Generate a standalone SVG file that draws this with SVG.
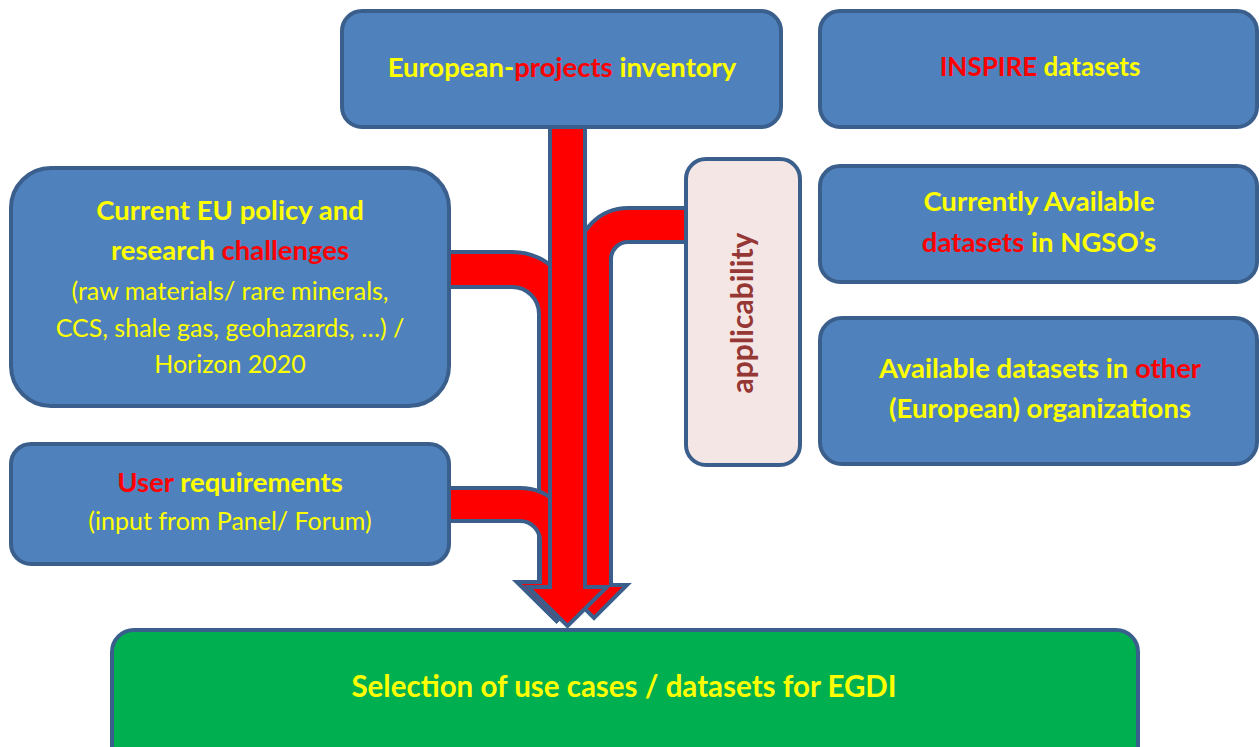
<svg xmlns="http://www.w3.org/2000/svg" width="1259" height="747" viewBox="0 0 1259 747">
<style>
.box{fill:#4f81bd;stroke:#3b5f8c;stroke-width:4}
.arr{fill:#ff0000;stroke:#3b5f8c;stroke-width:4;stroke-linejoin:miter}
.t{font-family:Lato,"Open Sans",sans-serif;text-anchor:middle;fill:#ffff00}
.b{font-weight:bold;font-size:27.5px}
.r{font-size:25px}
.red{fill:#ff0000}
</style>
<rect width="1259" height="747" fill="#ffffff"/>
<g id="connectors">
<path class="arr" d="M 448,252 L 512,252 A 62,62 0 0 1 574,314 L 574,582 L 596,582 L 556.5,621 L 517,582 L 539,582 L 539,314 A 27,27 0 0 0 512,287 L 448,287 Z"/>
<path class="arr" d="M 448,488 L 520,488 A 53,53 0 0 1 573,541 L 573,582 L 596,582 L 556.5,621 L 517,582 L 540,582 L 540,541 A 20,20 0 0 0 520,521 L 448,521 Z"/>
<path class="arr" d="M 688,208 L 628,208 A 51,51 0 0 0 577,259 L 577,585 L 561,585 L 594,618 L 627,585 L 611,585 L 611,259 A 17,17 0 0 1 628,242 L 688,242 Z"/>
<path class="arr" d="M 550,124 L 585,124 L 585,587 L 607,587 L 567.5,626 L 528,587 L 550,587 Z"/>
</g>
<g id="european-projects">
<rect class="box" x="342" y="11" width="439" height="116" rx="20"/>
<text class="t b" x="562" y="77">European-<tspan class="red">projects</tspan> inventory</text>
</g>
<g id="inspire">
<rect class="box" x="820" y="11" width="437" height="116" rx="20"/>
<text class="t b" x="1040" y="76" style="font-size:26px"><tspan class="red">INSPIRE</tspan> datasets</text>
</g>
<g id="ngso">
<rect class="box" x="820" y="166" width="437" height="116" rx="20"/>
<text class="t b" x="1039" y="211">Currently Available</text>
<text class="t b" x="1039" y="252"><tspan class="red">datasets</tspan> in NGSO’s</text>
</g>
<g id="other-orgs">
<rect class="box" x="820" y="318" width="437" height="146" rx="22"/>
<text class="t b" x="1040" y="378">Available datasets in <tspan class="red">other</tspan></text>
<text class="t b" x="1040" y="418">(European) organizations</text>
</g>
<g id="eu-policy">
<rect class="box" x="11" y="168" width="438" height="238" rx="40"/>
<text class="t b" x="230" y="220">Current EU policy and</text>
<text class="t b" x="230" y="260">research <tspan class="red">challenges</tspan></text>
<text class="t r" x="230" y="300">(raw materials/ rare minerals,</text>
<text class="t r" x="230" y="337">CCS, shale gas, geohazards, …) /</text>
<text class="t r" x="230" y="373">Horizon 2020</text>
</g>
<g id="user-req">
<rect class="box" x="11" y="444" width="438" height="120" rx="20"/>
<text class="t b" x="230" y="492"><tspan class="red">User</tspan> requirements</text>
<text class="t r" x="230" y="530">(input from Panel/ Forum)</text>
</g>
<g id="applicability">
<rect x="686" y="159" width="114" height="306" rx="20" fill="#f5e6e6" stroke="#3b5f8c" stroke-width="4"/>
<text class="t" font-weight="bold" font-size="30px" style="fill:#953735" transform="translate(743,313) rotate(-90)" y="10">applicability</text>
</g>
<g id="selection">
<rect x="112" y="630" width="1026" height="140" rx="22" fill="#00b050" stroke="#3b5f8c" stroke-width="4"/>
<text class="t b" x="624" y="697" style="font-size:29.5px">Selection of use cases / datasets for EGDI</text>
</g>
</svg>
